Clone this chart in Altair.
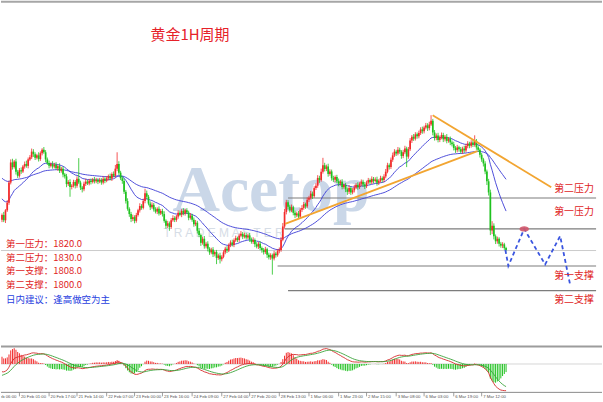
import altair as alt
import numpy as np
import pandas as pd

# ---------------- hourly gold candles (USD/oz) ----------------
first_open = 1823.0
closes = [
    1824.5, 1822.8, 1826.0, 1828.5, 1835.0, 1841.5, 1840.0, 1841.8, 1838.5, 1837.2,
    1839.0, 1838.6, 1840.2, 1841.0, 1840.4, 1842.5, 1843.2, 1845.0, 1844.2, 1843.0,
    1843.8, 1842.6, 1844.5, 1845.6, 1844.8, 1842.5, 1841.3, 1840.4, 1841.0, 1840.2,
    1840.8, 1839.6, 1840.3, 1838.8, 1839.5, 1837.6, 1837.0, 1834.5, 1835.2, 1833.6,
    1834.0, 1835.2, 1834.0, 1836.2, 1835.0, 1833.4, 1832.8, 1834.6, 1835.3, 1834.7,
    1835.6, 1835.2, 1836.0, 1835.4, 1835.9, 1835.3, 1835.8, 1835.0, 1836.2, 1835.6,
    1836.4, 1837.0, 1836.3, 1837.8, 1837.2, 1839.5, 1841.0, 1838.2, 1836.4, 1835.5,
    1832.0, 1829.0, 1826.5, 1824.8, 1823.2, 1823.8, 1822.6, 1824.5, 1826.0, 1827.4,
    1826.8, 1829.0, 1831.5, 1830.4, 1828.2, 1827.0, 1827.8, 1826.3, 1825.6, 1826.5,
    1825.0, 1825.8, 1824.8, 1822.6, 1821.0, 1821.8, 1820.6, 1822.8, 1823.5, 1822.9,
    1824.0, 1825.2, 1824.6, 1825.8, 1825.0, 1826.0, 1825.3, 1823.6, 1824.3, 1823.0,
    1821.5, 1822.0, 1819.4, 1818.0, 1815.5, 1816.8, 1814.4, 1815.2, 1813.6, 1812.4,
    1813.3, 1811.8, 1812.5, 1810.6, 1811.4, 1810.2, 1811.0, 1812.4, 1813.6, 1813.0,
    1814.8, 1815.6, 1814.9, 1816.3, 1817.0, 1816.4, 1817.8, 1818.4, 1817.5, 1818.0,
    1817.2, 1817.9, 1816.6, 1815.8, 1816.4, 1815.0, 1814.3, 1815.2, 1813.8, 1813.2,
    1812.5, 1813.4, 1811.6, 1810.8, 1811.5, 1810.4, 1812.0, 1811.5, 1812.8, 1813.2,
    1816.5, 1820.8, 1825.5, 1828.6, 1827.2, 1826.0, 1827.0, 1825.2, 1824.4, 1825.0,
    1824.0, 1826.2, 1826.8, 1828.0, 1827.3, 1829.4, 1830.1, 1831.4, 1830.6, 1833.2,
    1834.0, 1836.5, 1835.8, 1838.5, 1840.6, 1839.4, 1840.2, 1837.8, 1838.6, 1836.4,
    1835.9, 1836.8, 1835.4, 1834.7, 1835.3, 1833.6, 1834.2, 1832.8, 1832.0, 1833.2,
    1831.8, 1832.5, 1833.4, 1834.2, 1833.5, 1834.6, 1835.3, 1834.4, 1833.8, 1835.0,
    1835.8, 1835.1, 1836.2, 1835.5, 1836.0, 1834.9, 1835.6, 1836.4, 1835.8, 1837.0,
    1838.5, 1840.6, 1840.0, 1842.4, 1843.8, 1845.0, 1844.4, 1845.6, 1845.0, 1843.6,
    1844.8, 1846.0, 1843.4, 1845.8, 1848.6, 1849.8, 1849.2, 1850.6, 1850.0, 1851.0,
    1852.2, 1851.6, 1852.8, 1853.5, 1852.6, 1853.8, 1855.0, 1851.2, 1849.4, 1850.2,
    1848.8, 1849.6, 1850.4, 1849.0, 1849.8, 1848.5, 1849.2, 1848.0, 1847.4, 1846.2,
    1845.5, 1846.4, 1845.8, 1845.0, 1846.0, 1845.4, 1846.8, 1847.6, 1846.9, 1848.0,
    1847.2, 1848.5, 1846.4, 1845.6, 1844.0, 1842.5, 1841.2, 1838.6, 1835.4, 1831.8,
    1819.5, 1821.0, 1817.6, 1816.0, 1816.8, 1815.2, 1814.6, 1815.0, 1813.8, 1813.2,
]
# wick length above the body and below the body of each candle
upper_wick = [
    0.5, 1.0, 0.4, 0.8, 0.6, 1.0, 1.2, 0.5, 0.9, 0.6,
    0.7, 0.9, 0.5, 0.8, 1.1, 0.6, 0.7, 1.0, 0.8, 0.6,
    0.5, 1.0, 0.6, 0.5, 0.9, 0.7, 0.6, 0.8, 0.5, 0.9,
    0.6, 0.8, 0.5, 0.9, 0.6, 0.7, 0.5, 0.8, 0.6, 0.9,
    0.5, 0.7, 0.6, 0.8, 6.7, 0.6, 0.5, 0.7, 0.9, 0.6,
    0.6, 0.7, 0.5, 0.8, 0.6, 0.5, 0.7, 0.6, 0.8, 0.5,
    0.7, 0.6, 0.9, 0.5, 0.8, 1.2, 3.8, 0.9, 0.6, 0.7,
    0.8, 0.6, 0.9, 0.5, 0.7, 0.8, 0.6, 0.7, 0.5, 0.9,
    0.6, 0.8, 1.5, 0.9, 0.6, 0.7, 0.8, 0.6, 0.7, 0.5,
    0.8, 0.6, 0.7, 0.9, 0.5, 0.8, 0.6, 0.7, 0.9, 0.6,
    0.5, 0.8, 0.7, 0.6, 0.9, 0.5, 0.7, 0.6, 0.8, 0.6,
    0.7, 0.9, 0.6, 0.8, 0.5, 0.7, 0.9, 0.6, 0.8, 0.5,
    0.6, 0.8, 0.5, 0.7, 0.6, 0.9, 0.5, 0.7, 0.6, 0.8,
    0.5, 0.7, 0.9, 0.6, 0.8, 0.5, 0.7, 0.9, 0.6, 0.8,
    0.7, 0.5, 0.8, 0.6, 0.9, 0.5, 0.7, 0.6, 0.8, 0.5,
    0.6, 0.8, 0.5, 0.7, 0.6, 0.5, 0.9, 0.6, 0.7, 0.8,
    0.9, 1.1, 1.0, 0.8, 0.7, 0.6, 0.9, 0.5, 0.7, 0.6,
    0.8, 0.6, 0.9, 0.7, 0.5, 0.8, 0.6, 0.9, 0.7, 0.6,
    0.8, 0.9, 0.7, 1.0, 2.4, 0.8, 0.6, 0.9, 0.7, 0.6,
    0.8, 0.5, 0.7, 0.9, 0.6, 0.8, 0.5, 0.7, 0.6, 0.9,
    0.5, 0.7, 0.8, 0.6, 0.9, 0.5, 0.7, 0.6, 0.8, 0.6,
    0.7, 0.5, 0.8, 0.6, 0.7, 0.9, 0.5, 0.8, 0.6, 0.7,
    0.9, 0.8, 0.6, 0.7, 0.9, 0.8, 0.6, 0.9, 0.7, 0.5,
    0.8, 0.9, 0.6, 0.7, 0.8, 0.6, 0.9, 0.7, 0.6, 0.8,
    0.7, 0.9, 0.6, 0.8, 0.7, 0.9, 1.8, 0.6, 0.8, 0.7,
    0.9, 0.6, 0.8, 0.7, 0.6, 0.9, 0.5, 0.7, 0.6, 0.8,
    0.6, 0.8, 0.5, 0.7, 0.6, 0.9, 0.7, 0.8, 0.6, 0.7,
    0.8, 1.8, 0.6, 0.7, 0.5, 0.6, 0.5, 0.7, 0.6, 0.8,
    0.9, 1.5, 0.8, 0.6, 0.7, 0.5, 0.6, 0.7, 0.5, 0.4,
]
lower_wick = [
    0.8, 0.6, 0.9, 0.5, 0.7, 0.6, 0.8, 0.5, 0.9, 0.7,
    0.6, 0.8, 0.5, 0.7, 0.6, 0.8, 0.5, 0.6, 0.9, 0.7,
    0.5, 0.8, 0.6, 0.7, 0.5, 0.9, 0.6, 0.8, 0.5, 0.7,
    0.6, 0.5, 0.8, 0.7, 0.6, 0.9, 0.7, 1.0, 0.6, 3.2,
    0.8, 0.6, 0.9, 0.7, 0.5, 0.8, 1.0, 0.6, 0.7, 0.5,
    0.6, 0.8, 0.5, 0.7, 0.6, 0.8, 0.5, 0.7, 0.6, 0.8,
    0.5, 0.7, 0.6, 0.8, 0.5, 0.6, 0.8, 0.7, 0.6, 0.9,
    0.7, 0.8, 0.6, 0.9, 1.0, 0.7, 0.8, 0.6, 0.5, 0.7,
    0.6, 0.5, 0.7, 0.8, 0.6, 0.9, 0.5, 0.7, 0.6, 0.8,
    0.7, 0.5, 0.8, 0.6, 0.9, 0.7, 1.2, 0.6, 0.5, 0.7,
    0.6, 0.7, 0.5, 0.8, 0.6, 0.7, 0.5, 0.8, 0.6, 0.7,
    0.8, 0.6, 0.9, 0.7, 1.0, 0.6, 0.8, 0.7, 0.9, 0.8,
    0.6, 0.9, 0.7, 2.0, 0.6, 1.4, 0.7, 0.5, 0.6, 0.8,
    0.5, 0.7, 0.6, 0.8, 0.5, 0.7, 0.6, 0.5, 0.8, 0.6,
    0.7, 0.5, 0.8, 0.6, 0.7, 0.9, 0.6, 0.8, 0.7, 0.9,
    0.8, 0.6, 1.0, 0.7, 0.8, 5.2, 0.6, 0.8, 0.5, 0.7,
    0.6, 0.5, 0.7, 0.8, 0.9, 0.7, 0.6, 0.8, 0.9, 0.6,
    0.8, 0.5, 0.7, 0.6, 0.8, 0.5, 0.7, 0.6, 0.9, 0.5,
    0.6, 0.7, 0.9, 0.5, 0.6, 0.8, 0.7, 0.9, 0.6, 0.8,
    0.7, 0.8, 0.6, 0.9, 0.7, 0.8, 0.6, 0.9, 1.0, 0.7,
    0.8, 0.6, 0.7, 0.5, 0.8, 0.6, 0.7, 0.8, 0.9, 0.6,
    0.5, 0.7, 0.6, 0.8, 0.5, 0.9, 0.7, 0.6, 0.8, 0.7,
    0.6, 0.5, 0.8, 0.6, 0.7, 0.5, 0.8, 0.6, 0.7, 0.9,
    0.7, 0.6, 3.4, 0.7, 0.6, 0.8, 0.7, 0.6, 0.8, 0.7,
    0.6, 0.8, 0.7, 0.6, 0.9, 0.7, 0.5, 0.9, 0.8, 0.7,
    0.8, 0.7, 0.6, 0.9, 0.7, 0.8, 0.6, 0.9, 0.7, 0.8,
    0.9, 0.7, 0.8, 0.6, 0.7, 0.8, 0.6, 0.7, 0.8, 0.6,
    0.7, 0.6, 0.8, 0.7, 0.9, 0.8, 1.0, 0.9, 1.2, 1.0,
    1.5, 1.2, 1.0, 0.9, 0.8, 0.9, 0.7, 0.8, 0.6, 0.5,
]

# time axis: bar index of each labelled hour
label_bars = [-7, 10, 27, 43, 60, 76, 92, 109, 126, 142, 159, 176, 193, 209, 226, 242, 259, 275]
label_text = ["17 Feb 06:00", "20 Feb 01:00", "20 Feb 17:00", "21 Feb 14:00", "22 Feb 07:00",
              "23 Feb 00:00", "23 Feb 16:00", "24 Feb 09:00", "27 Feb 04:00", "27 Feb 20:00",
              "28 Feb 13:00", "1 Mar 06:00", "1 Mar 23:00", "2 Mar 15:00", "3 Mar 08:00",
              "6 Mar 03:00", "6 Mar 19:00", "7 Mar 12:00"]

# key levels
level_names = ["第二压力", "第一压力", "第一支撑", "第二支撑"]
level_values = [1830.0, 1820.0, 1808.0, 1800.0]
level_start_bar = [164, 162, 158, 164]
level_end_bar = 340.6
last_price = 1813.0

# hand-drawn trend lines (bar, price)
resist_bars, resist_prices = [246.9, 314.9], [1856.8, 1833.5]
support_bars, support_prices = [162.3, 272.6], [1821.6, 1845.2]

# projected path
path_bars = [288.6, 290.3, 299.4, 311.4, 320.0, 325.7]
path_prices = [1813.2, 1808.0, 1820.0, 1808.5, 1817.7, 1802.0]

# moving-average / MACD values carried in from before the first bar
ema20_start, ema60_start = 1830.3, 1836.8
ema12_start, ema26_start, dea_start = 1826.0, 1828.6, -4.0


def ema(values, span, start):
    k = 2.0 / (span + 1)
    out, prev = [], start
    for v in values:
        prev = prev + k * (v - prev)
        out.append(prev)
    return np.array(out)


n = len(closes)
opens = [first_open] + closes[:-1]
bars = pd.DataFrame({"i": np.arange(n), "open": opens, "close": closes})
bars["high"] = np.maximum(bars["open"], bars["close"]) + np.array(upper_wick)
bars["low"] = np.minimum(bars["open"], bars["close"]) - np.array(lower_wick)
up_bars = bars[bars["close"] >= bars["open"]]
down_bars = bars[bars["close"] < bars["open"]]

c = np.array(closes)
ma = pd.concat([
    pd.DataFrame({"i": np.arange(n), "v": ema(c, 20, ema20_start), "k": "ema20"}),
    pd.DataFrame({"i": np.arange(n), "v": ema(c, 60, ema60_start), "k": "ema60"}),
])

dif = ema(c, 12, ema12_start) - ema(c, 26, ema26_start)
dea = ema(dif, 9, dea_start)
hist = 2 * (dif - dea)
macd = pd.DataFrame({"i": np.arange(n), "dif": dif, "dea": dea, "hist": hist, "zero": 0.0})
pos_hist = macd[macd["hist"] >= 0]
neg_hist = macd[macd["hist"] < 0]

# ---------------- layout ----------------
W = 603
MAIN_H = 344
LOW_H = 56      # lower panel incl. time labels
IND_H = 46      # indicator area of the lower panel
RED, GREEN = "#f22b2b", "#1fc21f"
CJK = "Noto Sans CJK SC"

xs = alt.Scale(domain=[-0.571, 344.0], nice=False, zero=False)
ys = alt.Scale(domain=[1782.9, 1893.87], nice=False, zero=False)


def X(f):
    return alt.X(f, type="quantitative", scale=xs, axis=None)


def Y(f, scale=ys):
    return alt.Y(f, type="quantitative", scale=scale, axis=None)


one = pd.DataFrame({"a": [0]})


def note(text, x, y, color, size=10, font=CJK, weight="normal", baseline="middle"):
    return alt.Chart(one).mark_text(
        align="left", baseline=baseline, font=font, fontSize=size,
        fontWeight=weight, color=color
    ).encode(x=alt.value(x), y=alt.value(y), text=alt.value(text))


def hrule(y, color, width):
    return alt.Chart(one).mark_rule(color=color, strokeWidth=width).encode(
        x=alt.value(0), x2=alt.value(W), y=alt.value(y))


# watermark
wm = note("Acetop", 172, 211, "#cad7e8", size=66, font="Liberation Serif", weight="bold",
          baseline="alphabetic")
wm2 = note("T R A D E   M A S T E R", 163, 233, "#d6dde6", size=12, font="Liberation Sans")

top_border = hrule(1, "#a6a6a6", 2)

price_line = alt.Chart(pd.DataFrame({"v": [last_price], "s": [-0.571], "e": [level_end_bar]})).mark_rule(
    color="#cccccc", strokeWidth=1).encode(x=X("s"), x2="e", y=Y("v"))

levels = pd.DataFrame({"name": level_names, "v": level_values,
                       "s": level_start_bar, "e": [level_end_bar] * 4})
level_rules = alt.Chart(levels).mark_rule(color="#7c7c7c", strokeWidth=1.2).encode(
    x=X("s"), x2="e", y=Y("v"))

ma_lines = alt.Chart(ma).mark_line(color="#3b3bd6", strokeWidth=0.9).encode(
    x=X("i"), y=Y("v"), detail="k:N")


def candles(df, color):
    b = alt.Chart(df)
    wick = b.mark_rule(strokeWidth=0.8, color=color).encode(x=X("i"), y=Y("low"), y2="high")
    body = b.mark_rule(strokeWidth=1.7, color=color).encode(x=X("i"), y=Y("open"), y2="close")
    return [wick, body]


trend = pd.concat([
    pd.DataFrame({"b": resist_bars, "p": resist_prices, "k": "r"}),
    pd.DataFrame({"b": support_bars, "p": support_prices, "k": "s"}),
])
trend_lines = alt.Chart(trend).mark_line(color="#f2a531", strokeWidth=1.8).encode(
    x=X("b"), y=Y("p"), detail="k:N")

path = pd.DataFrame({"b": path_bars, "p": path_prices, "o": list(range(len(path_bars)))})
path_line = alt.Chart(path).mark_line(color="#3a55e0", strokeWidth=1.8, strokeDash=[4, 3]).encode(
    x=X("b"), y=Y("p"), order="o:Q")

# flat ellipse marking the touch of the first resistance
ellipse = "M -1 0 C -1 -0.75 1 -0.75 1 0 C 1 0.75 -1 0.75 -1 0 Z"
touch_pt = pd.DataFrame({"b": [path_bars[2]], "p": [path_prices[2]]})
touch = alt.Chart(touch_pt).mark_point(
    shape=ellipse, filled=True, size=90, color="#d0566a", opacity=0.9).encode(x=X("b"), y=Y("p"))

title = note("黄金1H周期", 150, 34, "#e62129", size=15)
left_lines = ["第一压力：1820.0", "第二压力：1830.0", "第一支撑：1808.0", "第二支撑：1800.0"]
left_y = [244, 258, 271.5, 285]
left_notes = [note(t, 5, y, "#e02424", size=9.5) for t, y in zip(left_lines, left_y)]
advice = note("日内建议：逢高做空为主", 5, 300.5, "#2a3fe0", size=9.5)
right_y = [189, 212, 276, 300]
right_notes = [note(t, 555, y, "#e02424") for t, y in zip(level_names, right_y)]

main = alt.layer(
    wm, wm2, top_border, price_line, level_rules, ma_lines,
    *candles(up_bars, RED), *candles(down_bars, GREEN),
    trend_lines, path_line, touch, title, advice, *left_notes, *right_notes
).properties(width=W, height=MAIN_H)

# ---------------- MACD panel ----------------
lo = float(min(dif.min(), dea.min(), hist.min()))
hi = float(max(dif.max(), dea.max(), hist.max()))
pad = (hi - lo) * 0.04
lo, hi = lo - pad, hi + pad
ms = alt.Scale(domain=[lo - (hi - lo) * (LOW_H - IND_H) / IND_H, hi], nice=False, zero=False)

zero_line = alt.Chart(pd.DataFrame({"z": [0.0], "s": [-0.571], "e": [344.0]})).mark_rule(
    color="#d6d6d6", strokeWidth=1).encode(x=X("s"), x2="e", y=Y("z", ms))
hist_pos = alt.Chart(pos_hist).mark_rule(strokeWidth=1, color=RED).encode(
    x=X("i"), y=Y("hist", ms), y2="zero")
hist_neg = alt.Chart(neg_hist).mark_rule(strokeWidth=1, color=GREEN).encode(
    x=X("i"), y=Y("hist", ms), y2="zero")
dif_line = alt.Chart(macd).mark_line(color="#d42a2a", strokeWidth=0.9).encode(x=X("i"), y=Y("dif", ms))
dea_line = alt.Chart(macd).mark_line(color="#3aa33a", strokeWidth=0.9).encode(x=X("i"), y=Y("dea", ms))

sep = hrule(0, "#9c9c9c", 2)
axis_line = hrule(IND_H, "#8a8a8a", 1)
labels = pd.DataFrame({"b": label_bars, "t": label_text})
ticks = alt.Chart(labels).mark_rule(color="#888888", strokeWidth=0.8, clip=True).encode(
    x=X("b"), y=alt.value(IND_H), y2=alt.value(IND_H + 4))
tick_text = alt.Chart(labels).mark_text(
    align="left", baseline="middle", dx=1.5, fontSize=4.3, font="Liberation Sans",
    color="#555555", clip=True
).encode(x=X("b"), y=alt.value(IND_H + 4.5), text="t:N")

lower = alt.layer(
    zero_line, hist_pos, hist_neg, dif_line, dea_line, sep, axis_line, ticks, tick_text
).properties(width=W, height=LOW_H)

chart = alt.vconcat(main, lower, spacing=2).properties(
    padding=0, background="white"
).configure_view(stroke=None)

chart.save("out.html", embed_options={"renderer": "svg", "actions": False})
